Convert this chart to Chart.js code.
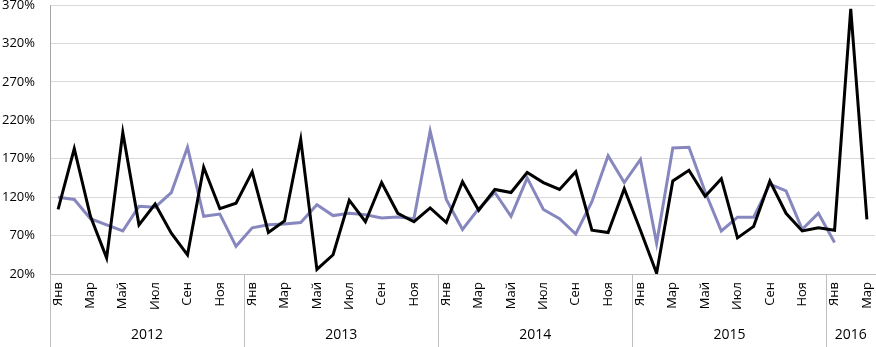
<!DOCTYPE html>
<html>
<head>
<meta charset="utf-8">
<script src="https://cdn.jsdelivr.net/npm/chart.js@4.4.1/dist/chart.umd.min.js"></script>
<style>
  html, body { margin: 0; padding: 0; background: #ffffff; }
  #wrap { width: 876px; height: 347px; }
</style>
</head>
<body>
<div id="wrap"><canvas id="c" width="876" height="347"></canvas></div>
<script>
// ---- data ----
const years = ['2012', '2013', '2014', '2015', '2016'];
const monthsPerYear = [12, 12, 12, 12, 3];
const monthNames = ['Янв', 'Фев', 'Мар', 'Апр', 'Май', 'Июн', 'Июл', 'Авг', 'Сен', 'Окт', 'Ноя', 'Дек'];
const yTicks = [20, 70, 120, 170, 220, 270, 320, 370];

// black series (%), Jan 2012 .. Mar 2016
const seriesBlack = [
  104, 183, 95, 41, 204, 84, 111, 73, 45, 159, 105, 112,
  153, 74, 89, 195, 26, 45, 116, 88, 139, 99, 88, 106,
  87, 140, 103, 130, 126, 152, 139, 130, 153, 77, 74, 131,
  77, 21, 141, 155, 121, 144, 67, 82, 141, 99, 76, 80,
  77, 365, 91
];
// light purple series (%), Jan 2012 .. Jan 2016
const seriesPurple = [
  120, 117, 92, 84, 76, 108, 107, 126, 185, 95, 98, 56,
  80, 84, 85, 87, 110, 96, 99, 97, 93, 94, 92, 206,
  117, 78, 105, 126, 95, 145, 104, 92, 72, 114, 174, 139,
  169, 60, 184, 185, 127, 76, 94, 94, 137, 128, 78, 99,
  61
];

// ---- build categories ----
const categories = [];
years.forEach((y, yi) => {
  for (let m = 0; m < monthsPerYear[yi]; m++) categories.push(monthNames[m] + ' ' + y);
});

const FONT = "'Open Sans', 'Liberation Sans', sans-serif";

const yearPlugin = {
  id: 'yearRow',
  afterDraw(chart) {
    const ctx = chart.ctx;
    const xs = chart.scales.x;
    const area = chart.chartArea;
    const half = (xs.getPixelForValue(1) - xs.getPixelForValue(0)) / 2;
    ctx.save();
    ctx.strokeStyle = '#bfbfbf';
    ctx.lineWidth = 1;
    ctx.fillStyle = '#000000';
    ctx.font = '14px ' + FONT;
    ctx.textAlign = 'center';
    ctx.textBaseline = 'middle';
    let idx = 0;
    years.forEach((y, yi) => {
      const start = xs.getPixelForValue(idx) - half;
      const end = xs.getPixelForValue(idx + monthsPerYear[yi] - 1) + half;
      const sx = Math.round(start) + 0.5;
      ctx.beginPath();
      ctx.moveTo(sx, area.bottom);
      ctx.lineTo(sx, chart.height);
      ctx.stroke();
      ctx.fillText(y, (start + end) / 2, 335);
      idx += monthsPerYear[yi];
    });
    ctx.restore();
  }
};

new Chart(document.getElementById('c'), {
  type: 'line',
  data: {
    labels: categories,
    datasets: [
      {
        label: 'Ряд 2',
        data: seriesPurple,
        borderColor: '#8787bf',
        borderWidth: 3,
        pointRadius: 0,
        tension: 0,
        fill: false,
        order: 2
      },
      {
        label: 'Ряд 1',
        data: seriesBlack,
        borderColor: '#000000',
        borderWidth: 3,
        pointRadius: 0,
        tension: 0,
        fill: false,
        order: 1
      }
    ]
  },
  options: {
    responsive: false,
    animation: false,
    devicePixelRatio: 1,
    layout: { padding: { top: 5, right: 1, left: 0, bottom: 0 } },
    plugins: { legend: { display: false }, tooltip: { enabled: false } },
    scales: {
      x: {
        type: 'category',
        offset: true,
        grid: { display: false, drawTicks: false },
        border: { display: true, color: '#bfbfbf', width: 1 },
        ticks: {
          autoSkip: false,
          maxRotation: 90,
          minRotation: 90,
          padding: 8,
          color: '#000000',
          font: { family: FONT, size: 13 },
          callback: (v, i) => (i % 2 === 0 ? monthNames[i % 12] : '')
        },
        afterFit: (s) => { s.height = 73; s.paddingLeft = 0; s.paddingRight = 0; }
      },
      y: {
        min: yTicks[0],
        max: yTicks[yTicks.length - 1],
        afterBuildTicks: (s) => { s.ticks = yTicks.map(v => ({ value: v })); },
        grid: { color: '#d9d9d9', drawTicks: false },
        border: { display: true, color: '#a6a6a6', width: 1 },
        ticks: {
          padding: 15,
          color: '#000000',
          font: { family: FONT, size: 13 },
          callback: (v) => v + '%'
        },
        afterFit: (s) => { s.width = 50; s.paddingTop = 0; s.paddingBottom = 0; }
      }
    }
  },
  plugins: [yearPlugin]
});
</script>
</body>
</html>
